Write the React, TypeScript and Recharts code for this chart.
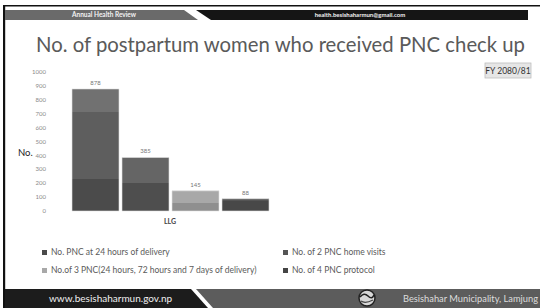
import React from 'react';
import { BarChart, Bar, XAxis, YAxis, LabelList } from 'recharts';

const categories = ['LLG'];
const seriesNames = [
  'No. PNC at 24 hours of delivery',
  'No. of 2 PNC home visits',
  'No.of 3 PNC(24 hours, 72 hours and 7 days of delivery)',
  'No. of 4 PNC protocol',
];
const seriesValues = [878, 385, 145, 88];
const yTicks = [0, 100, 200, 300, 400, 500, 600, 700, 800, 900, 1000];
const legendColors = ['#4a4a4a', '#555555', '#a8a8a8', '#444444'];

const keys = seriesNames.map((_, i) => `s${i}`);
const data = categories.map((c) => {
  const row: Record<string, string | number> = { name: c };
  keys.forEach((k, i) => (row[k] = seriesValues[i]));
  return row;
});

const FONT = 'Lato, "Open Sans", sans-serif';

export default function App() {
  return (
    <div
      style={{
        position: 'fixed',
        left: 0,
        top: 0,
        width: 540,
        height: 308,
        overflow: 'hidden',
        background: '#fff',
        fontFamily: FONT,
      }}
    >
      <svg width={540} height={308} style={{ position: 'absolute', left: 0, top: 0 }}>
        <rect x={3} y={5} width={537} height={1.5} fill="#111" />
        <rect x={3} y={5} width={2.2} height={303} fill="#111" />
        <polygon points="5,10 184,10 198,20 5,20" fill="#6a6a6a" />
        <polygon points="196,10 528,10 528,20 211,20" fill="#151515" />
        <text x={104} y={17} fontSize={6.5} fontWeight={700} fill="#f2f2f2" textAnchor="middle" fontFamily={FONT}>
          Annual Health Review
        </text>
        <text x={360} y={17} fontSize={6} fontWeight={700} fill="#f2f2f2" textAnchor="middle" fontFamily={FONT}>
          health.besishaharmun@gmail.com
        </text>
        <text x={36} y={52} fontSize={20.5} fill="#5a5a5a" textLength={489} lengthAdjust="spacingAndGlyphs" fontFamily={FONT}>
          No. of postpartum women who received PNC check up
        </text>
        <rect x={485} y={63} width={46} height={15} fill="#e6e6e6" stroke="#bdbdbd" strokeWidth={0.8} />
        <text x={508} y={73.5} fontSize={8.5} fill="#333" textAnchor="middle" fontFamily={FONT}>
          FY 2080/81
        </text>
        <text x={18} y={156} fontSize={9.5} fill="#222" fontFamily={FONT}>
          No.
        </text>
        <polygon points="5,289 191,289 208,308 5,308" fill="#1c1c1c" />
        <polygon points="196,289 540,289 540,308 213,308" fill="#5c5c5c" />
        <text x={49} y={302} fontSize={10} fill="#f0f0f0" fontFamily={FONT}>
          www.besishaharmun.gov.np
        </text>
        <text x={403} y={302} fontSize={9} fill="#dcdcdc" fontFamily={FONT} textLength={135} lengthAdjust="spacingAndGlyphs">
          Besishahar Municipality, Lamjung
        </text>
        <circle cx={367} cy={298} r={8} fill="#d8d8d8" stroke="#222" strokeWidth={1.5} />
        <path d="M360,297 Q364,292 368,296 T374,295" stroke="#222" strokeWidth={1.6} fill="none" />
        <path d="M361,301 Q365,304 373,300" stroke="#444" strokeWidth={1.2} fill="none" />
      </svg>

      <div style={{ position: 'absolute', left: 0, top: 0 }}>
        <BarChart
          width={540}
          height={308}
          data={data}
          margin={{ top: 72, right: 272, bottom: 77, left: 0 }}
          barCategoryGap={0}
          barGap={3}
        >
          <defs>
            <linearGradient id="g0" x1="0" y1="0" x2="0" y2="1">
              <stop offset="0" stopColor="#717171" />
              <stop offset="0.191" stopColor="#717171" />
              <stop offset="0.191" stopColor="#5e5e5e" />
              <stop offset="0.738" stopColor="#5e5e5e" />
              <stop offset="0.738" stopColor="#4b4b4b" />
              <stop offset="1" stopColor="#4b4b4b" />
            </linearGradient>
            <linearGradient id="g1" x1="0" y1="0" x2="0" y2="1">
              <stop offset="0" stopColor="#656565" />
              <stop offset="0.468" stopColor="#656565" />
              <stop offset="0.468" stopColor="#4e4e4e" />
              <stop offset="1" stopColor="#4e4e4e" />
            </linearGradient>
            <linearGradient id="g2" x1="0" y1="0" x2="0" y2="1">
              <stop offset="0" stopColor="#a8a8a8" />
              <stop offset="0.62" stopColor="#a8a8a8" />
              <stop offset="0.62" stopColor="#8f8f8f" />
              <stop offset="1" stopColor="#8f8f8f" />
            </linearGradient>
            <linearGradient id="g3" x1="0" y1="0" x2="0" y2="1">
              <stop offset="0" stopColor="#555555" />
              <stop offset="0.2" stopColor="#555555" />
              <stop offset="0.2" stopColor="#484848" />
              <stop offset="1" stopColor="#484848" />
            </linearGradient>
          </defs>
          <XAxis
            dataKey="name"
            axisLine={false}
            tickLine={false}
            height={20}
            tickMargin={2}
            tick={{ fontSize: 7, fontWeight: 700, fill: '#444', fontFamily: FONT }}
          />
          <YAxis
            width={72}
            domain={[0, 1000]}
            ticks={yTicks}
            interval={0}
            axisLine={false}
            tickLine={false}
            tickSize={0}
            tickMargin={26}
            tick={{ fontSize: 6, fill: '#8a8a8a', fontFamily: FONT }}
          />
          {keys.map((k, i) => (
            <Bar key={k} dataKey={k} name={seriesNames[i]} fill={`url(#g${i})`} stroke="#e0e0e0" strokeWidth={0.6} isAnimationActive={false}>
              <LabelList dataKey={k} position="top" offset={4} style={{ fontSize: 6, fill: '#777', fontFamily: FONT }} />
            </Bar>
          ))}
        </BarChart>
      </div>

      {seriesNames.map((n, i) => (
        <div
          key={n}
          style={{
            position: 'absolute',
            left: i % 2 === 0 ? 42 : 283,
            top: i < 2 ? 247 : 265,
            fontSize: 8.5,
            color: '#5a5a5a',
            whiteSpace: 'nowrap',
            display: 'flex',
            alignItems: 'center',
            lineHeight: '11px',
          }}
        >
          <span style={{ display: 'inline-block', width: 5, height: 5, background: legendColors[i], marginRight: 4 }} />
          {n}
        </div>
      ))}
    </div>
  );
}
